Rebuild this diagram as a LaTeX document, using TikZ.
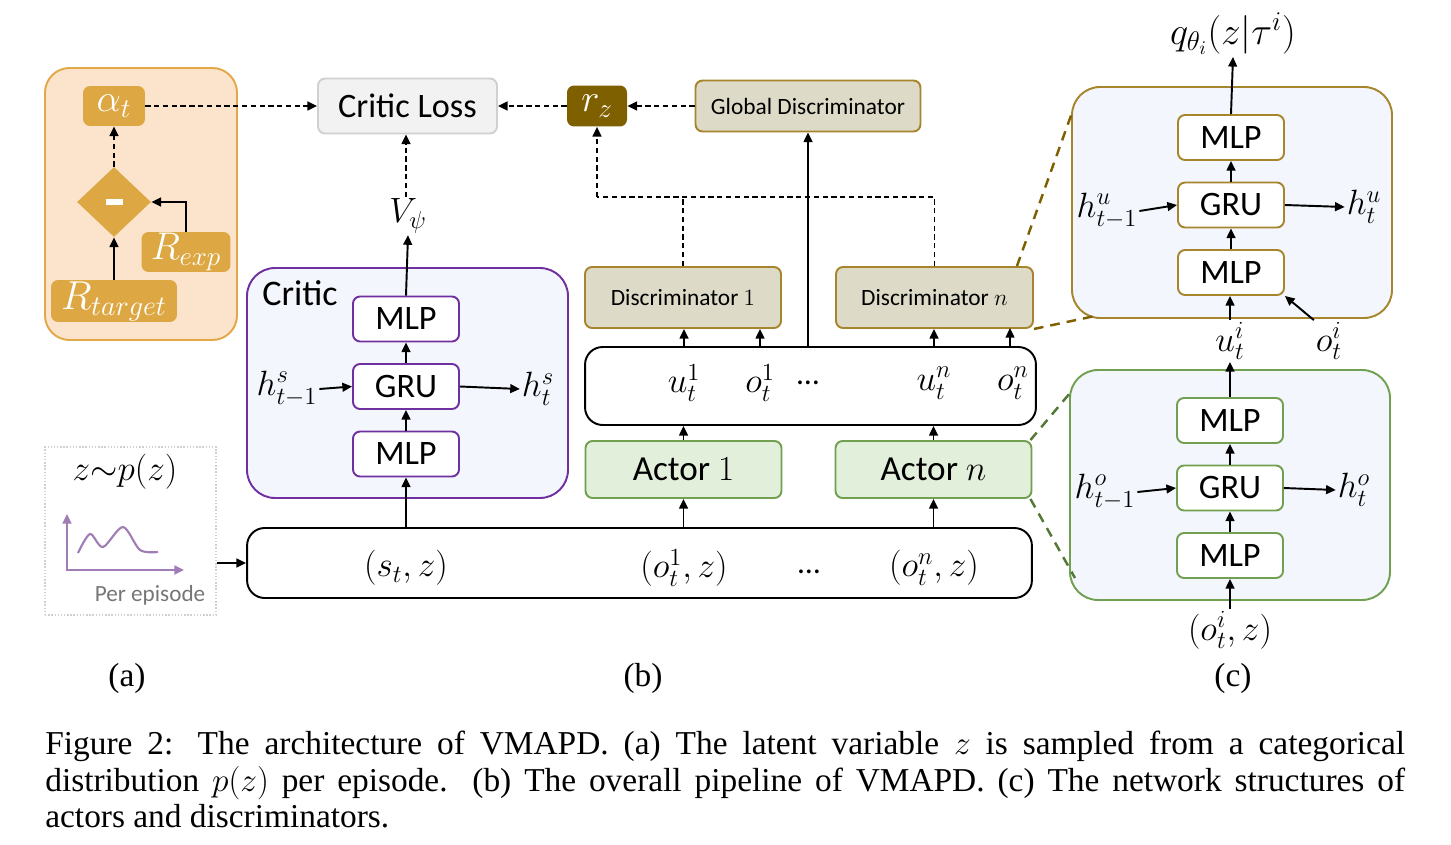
\RequirePackage{fix-cm}
\documentclass[tikz,border=0pt]{standalone}
\usepackage{amsmath}
\usepackage{fontspec}
\setmainfont{Liberation Serif}
\newfontfamily\calib{Carlito}
\usepackage{tikz}
\usetikzlibrary{shapes,calc,positioning,arrows.meta}

\definecolor{orfill}{RGB}{252,228,204}
\definecolor{orline}{RGB}{226,168,72}
\definecolor{goldc}{RGB}{221,168,68}
\definecolor{lossfill}{RGB}{242,242,242}
\definecolor{lossline}{RGB}{208,208,208}
\definecolor{rzfill}{RGB}{127,96,0}
\definecolor{discfill}{RGB}{221,219,200}
\definecolor{discline}{RGB}{166,133,44}
\definecolor{panelfill}{RGB}{243,246,252}
\definecolor{critline}{RGB}{112,48,160}
\definecolor{actfill}{RGB}{226,239,218}
\definecolor{actline}{RGB}{112,160,80}
\definecolor{zoomgreen}{RGB}{84,120,53}
\definecolor{distc}{RGB}{160,125,180}
\definecolor{greytext}{RGB}{118,118,118}

\tikzset{
  >={Triangle[length=5.5pt,width=5pt]},
  box/.style={draw, rounded corners=4pt, line width=1.1pt, inner sep=0pt},
  net/.style={box, fill=white, minimum width=2.12cm, minimum height=0.9cm, font=\calib\fontsize{19.5}{22}\selectfont},
  goldbox/.style={fill=goldc, rounded corners=4pt, text=white, inner sep=0pt, font=\fontsize{22}{24}\selectfont},
  disc/.style={box, draw=discline, fill=discfill, font=\calib\fontsize{13.3}{16}\selectfont},
  actor/.style={box, draw=actline, fill=actfill, minimum width=3.92cm, minimum height=1.14cm, font=\calib\fontsize{20}{22}\selectfont},
  lbl/.style={inner sep=1pt, font=\fontsize{20}{24}\selectfont},
  ell/.style={inner sep=0pt, font=\calib\fontsize{18}{20}\selectfont},
  panel/.style={rounded corners=16pt, line width=1.1pt, fill=panelfill},
  flow/.style={->, line width=1.1pt},
  dflow/.style={->, line width=1.1pt, densely dashed},
  zoomline/.style={line width=1.4pt, dash pattern=on 5.5pt off 4pt},
}

\begin{document}
\begin{tikzpicture}[x=0.02cm,y=-0.02cm]
\useasboundingbox (0,0) rectangle (1451,845);

% (a) exploration coefficient
\draw[fill=orfill, draw=orline, line width=1.1pt, rounded corners=14pt] (45,68) rectangle (237,340);
\node[goldbox, minimum width=1.24cm, minimum height=0.8cm] (alpha) at (114,106) {$\alpha_t$};
\node[diamond, fill=goldc, minimum width=1.48cm, minimum height=1.4cm, inner sep=0pt] (diff) at (114,202) {\color{white}\rule{0.34cm}{0.11cm}};
\node[goldbox, minimum width=1.78cm, minimum height=0.8cm] (Rexp) at (186,252) {$R_{exp}$};
\node[goldbox, minimum width=2.52cm, minimum height=0.84cm, font=\fontsize{23}{26}\selectfont] (Rtar) at (114,301) {$R_{target}$};

\draw[flow] (Rtar.north) -- (diff.south);
\draw[flow] (Rexp.north) |- (diff.east);
\draw[dflow] (diff.north) -- (alpha.south);

% latent variable
\node[draw=lossline, densely dotted, line width=0.8pt, minimum width=3.42cm, minimum height=3.36cm] (dist) at (130.5,531) {};
\node[lbl] (zp) at (125,472) {$z{\sim}p(z)$};
\draw[->, distc, line width=1.2pt] (67,570) -- (67,514);
\draw[->, distc, line width=1.2pt] (66,570) -- (184,570);
\draw[distc, line width=1.2pt] plot[smooth] coordinates {(78,553) (90,534) (103,547) (123,527) (140,550) (158,552)};
\node[font=\calib\fontsize{13.2}{16}\selectfont, text=greytext] (perep) at (150,595) {Per episode};

% top row
\node[box, draw=lossline, fill=lossfill, minimum width=3.58cm, minimum height=1.1cm, font=\calib\fontsize{19.5}{22}\selectfont] (closs) at (407.5,106) {Critic Loss};
\node[fill=rzfill, rounded corners=4pt, text=white, inner sep=0pt, minimum width=1.2cm, minimum height=0.82cm, font=\fontsize{22}{24}\selectfont] (rz) at (597,106) {$r_z$};
\node[disc, minimum width=4.5cm, minimum height=1.02cm] (globD) at (808,106) {Global Discriminator};

\draw[dflow] (alpha.east) -- (closs.west);
\draw[dflow] (rz.west) -- (closs.east);
\draw[dflow] (globD.west) -- (rz.east);

% (b) critic
\draw[panel, draw=critline] (247,268) rectangle (568,498);
\node[font=\calib\fontsize{20.5}{22}\selectfont] (ctitle) at (300,293) {Critic};
\node[net, draw=critline] (cMLPtop) at (406,319) {MLP};
\node[net, draw=critline] (cGRU) at (406,386.5) {GRU};
\node[net, draw=critline] (cMLPbot) at (406,454) {MLP};
\node[lbl] (hs1) at (287,389) {$h^s_{t-1}$};
\node[lbl] (hs) at (538,389) {$h^s_t$};
\node[lbl] (vpsi) at (408,216) {$V_\psi$};

\draw[flow] (cMLPbot) -- (cGRU);
\draw[flow] (cGRU) -- (cMLPtop);
\draw[flow] (cMLPtop.north) -- (vpsi.south);
\draw[flow] (hs1.east) -- (cGRU.west);
\draw[flow] (cGRU.east) -- (hs.west);
\draw[dflow] (vpsi.north -| cMLPtop) -- (cMLPtop |- closs.south);

% (b) agents
\node[box, draw=black, rounded corners=10pt, minimum width=15.7cm, minimum height=1.4cm] (state) at (639.5,563) {};
\node[lbl] (sz) at (406,568) {$(s_t,z)$};
\node[lbl] (o1z) at (684,568) {$(o^1_t,z)$};
\node[ell] (sdots) at (809,572) {…};
\node[lbl] (onz) at (934,568) {$(o^n_t,z)$};

\node[actor] (act1) at (683.5,469.5) {Actor $1$};
\node[actor] (actn) at (933.5,469.5) {Actor $n$};

\node[box, draw=black, rounded corners=10pt, minimum width=9.02cm, minimum height=1.56cm] (obs) at (810.5,386) {};
\node[lbl] (u1) at (684,383) {$u^1_t$};
\node[lbl] (o1) at (760,383) {$o^1_t$};
\node[ell] (odots) at (808,383) {…};
\node[lbl] (un) at (934,383) {$u^n_t$};
\node[lbl] (on) at (1013,383) {$o^n_t$};

\node[disc, minimum width=3.92cm, minimum height=1.22cm] (disc1) at (683,297.5) {Discriminator $1$};
\node[disc, minimum width=3.94cm, minimum height=1.22cm] (discn) at (934.5,297.5) {Discriminator $n$};

\draw[flow] (dist.east |- state.west) -- (state.west);
\draw[flow] (cMLPbot |- state.north) -- (cMLPbot.south);
\draw[flow] (act1 |- state.north) -- (act1.south);
\draw[flow] (actn |- state.north) -- (actn.south);
\draw[flow] (act1.north) -- (act1 |- obs.south);
\draw[flow] (actn.north) -- (actn |- obs.south);
\draw[flow] (u1 |- obs.north) -- (u1 |- disc1.south);
\draw[flow] (o1 |- obs.north) -- (o1 |- disc1.south);
\draw[flow] (un |- obs.north) -- (un |- discn.south);
\draw[flow] (1010,347) -- (1010,328);
\draw[flow] (globD |- obs.north) -- (globD.south);

\coordinate (jn) at (597,197);
\draw[line width=1.1pt, densely dashed] (disc1.north) -- (disc1.north |- jn);
\draw[line width=1.1pt, densely dashed] (discn.north) |- (jn);
\draw[dflow] (jn) -- (rz.south);

% (c) discriminator network
\draw[panel, draw=discline] (1072,87) rectangle (1392,318);
\node[net, draw=discline] (dMLPtop) at (1231,137.5) {MLP};
\node[net, draw=discline] (dGRU) at (1231,205) {GRU};
\node[net, draw=discline] (dMLPbot) at (1231,272.5) {MLP};
\node[lbl, font=\fontsize{22}{26}\selectfont] (qlab) at (1233,34) {$q_{\theta_i}(z|\tau^i)$};
\node[lbl] (hu1) at (1107,211) {$h^u_{t-1}$};
\node[lbl] (hu) at (1364,207) {$h^u_t$};
\node[lbl] (ui) at (1230,341) {$u^i_t$};
\node[lbl] (oi) at (1329,341) {$o^i_t$};

\draw[flow] (dMLPbot) -- (dGRU);
\draw[flow] (dGRU) -- (dMLPtop);
\draw[flow] (dMLPtop.north) -- (qlab.south);
\draw[flow] (hu1.east) -- (dGRU.west);
\draw[flow] (dGRU.east) -- (hu.west);
\draw[flow] (ui.north) -- (ui |- dMLPbot.south);
\draw[flow] (oi.north west) -- (dMLPbot.south east);

% (c) actor network
\draw[panel, draw=actline] (1070,370) rectangle (1390,600);
\node[net, draw=actline] (aMLPtop) at (1230,420.5) {MLP};
\node[net, draw=actline] (aGRU) at (1230,488) {GRU};
\node[net, draw=actline] (aMLPbot) at (1230,555.5) {MLP};
\node[lbl] (ho1) at (1105,492) {$h^o_{t-1}$};
\node[lbl] (ho) at (1354,490) {$h^o_t$};
\node[lbl] (oiz) at (1230,630) {$(o^i_t,z)$};

\draw[flow] (aMLPbot) -- (aGRU);
\draw[flow] (aGRU) -- (aMLPtop);
\draw[flow] (aMLPtop.north) -- (ui.south);
\draw[flow] (ho1.east) -- (aGRU.west);
\draw[flow] (aGRU.east) -- (ho.west);
\draw[flow] (oiz.north) -- (aMLPbot.south);

% zoom lines
\coordinate (zu1) at (1073,110);
\coordinate (zu2) at (1095,316);
\coordinate (zg1) at (1070,393);
\coordinate (zg2) at (1075,578);
\draw[zoomline, rzfill] ([xshift=-0.34cm]discn.north east) -- (zu1);
\draw[zoomline, rzfill] (discn.south east) -- (zu2);
\draw[zoomline, zoomgreen] ([xshift=-0.04cm]actn.north east) -- (zg1);
\draw[zoomline, zoomgreen] ([xshift=-0.04cm]actn.south east) -- (zg2);

% sub-figure labels and caption
\node[font=\fontsize{19}{22}\selectfont] (la) at (127,678) {(a)};
\node[font=\fontsize{19}{22}\selectfont] (lb) at (643,678) {(b)};
\node[font=\fontsize{19}{22}\selectfont] (lc) at (1233,678) {(c)};
\node[anchor=north west, inner sep=0pt, text width=27.2cm, align=justify, font=\fontsize{19}{20.7}\selectfont] (cap) at (45,731) {\hyphenpenalty=10000 Figure 2: The architecture of VMAPD. (a) The latent variable $z$ is sampled from a categorical\linebreak distribution $p(z)$ per episode. (b) The overall pipeline of VMAPD. (c) The network structures of\linebreak actors and discriminators.};

\end{tikzpicture}
\end{document}
